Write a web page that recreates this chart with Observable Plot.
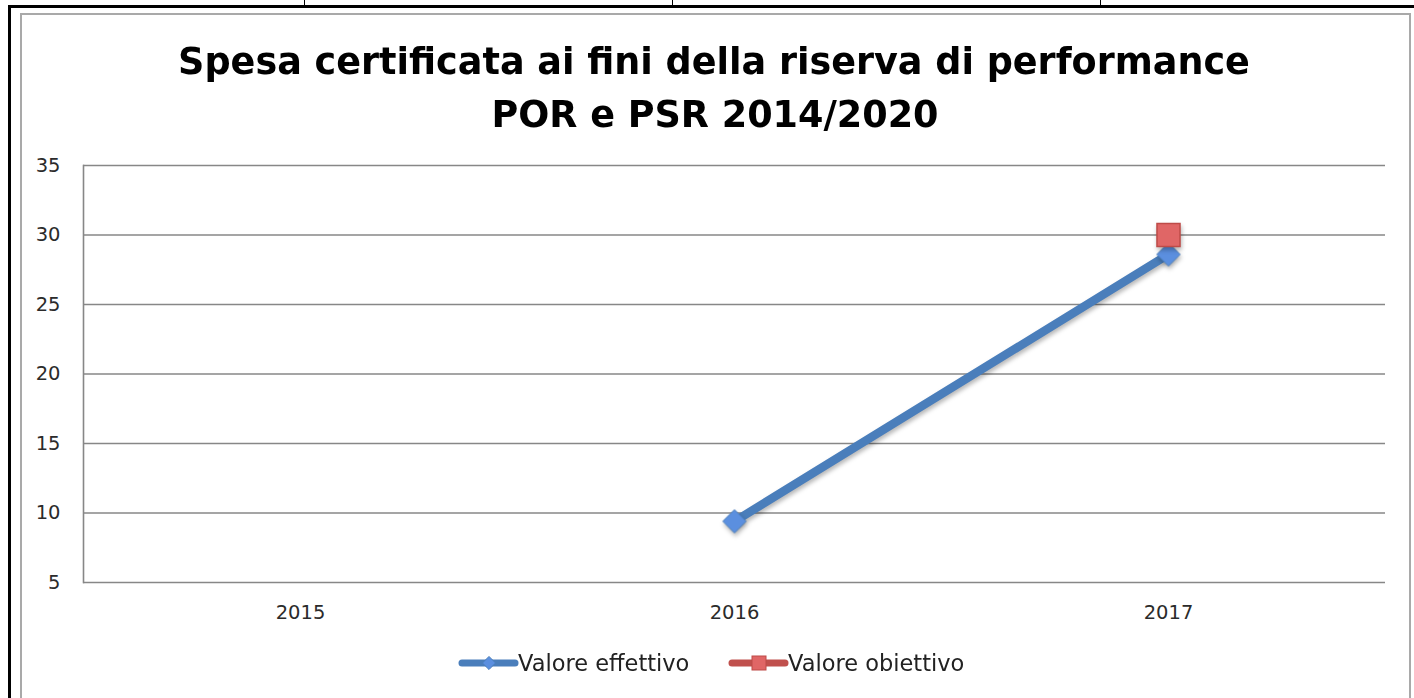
<!DOCTYPE html>
<html><head><meta charset="utf-8">
<script src="https://cdn.jsdelivr.net/npm/d3@7"></script>
<script src="https://cdn.jsdelivr.net/npm/@observablehq/plot@0.6"></script>
<style>
html,body{margin:0;padding:0;background:#fff;}
#page{position:relative;width:1414px;height:698px;overflow:hidden;background:#fff;font-family:"DejaVu Sans",sans-serif;}
.blk{position:absolute;background:#000;}
#box{position:absolute;left:20px;top:13px;width:1391px;height:720px;border:2px solid #a9a9a9;box-sizing:border-box;background:#fff;}
#chart{position:absolute;left:0;top:0;}
#overlay{position:absolute;left:0;top:0;}
g[aria-label="line"], g[aria-label="dot"]{filter:drop-shadow(1px 3px 2px rgba(0,0,0,0.28));}
</style>
</head><body>
<div id="page">
  <div class="blk" style="left:8px;top:5px;width:1406px;height:3px;"></div>
  <div class="blk" style="left:8px;top:5px;width:3px;height:700px;"></div>
  <div class="blk" style="left:304px;top:0;width:1px;height:5px;"></div>
  <div class="blk" style="left:672px;top:0;width:1px;height:5px;"></div>
  <div class="blk" style="left:1100px;top:0;width:1px;height:5px;"></div>
  <div id="box"></div>
  <div id="chart"></div>
  <svg id="overlay" width="1414" height="698"></svg>
</div>
<script>
const years = ["2015", "2016", "2017"];
const effettivo = [null, 9.4, 28.6];
const obiettivo = [null, null, 30];
const yTicks = [5, 10, 15, 20, 25, 30, 35];
const seriesNames = ["Valore effettivo", "Valore obiettivo"];
const titleLines = ["Spesa certificata ai fini della riserva di performance", "POR e PSR 2014/2020"];

const effData = years.map((year, i) => ({year, value: effettivo[i]})).filter(d => d.value != null);
const objData = years.map((year, i) => ({year, value: obiettivo[i]})).filter(d => d.value != null);

const blue = "#4a7ebb", blueFill = "#5b8fdf", red = "#be4b48", redFill = "#e06666";

const chart = Plot.plot({
  width: 1414, height: 698,
  marginLeft: 83, marginRight: 29, marginTop: 165, marginBottom: 116,
  style: {background: "transparent", fontFamily: "DejaVu Sans, sans-serif", fontSize: "19.5px", color: "#2b2b2b"},
  x: {type: "point", domain: years, padding: 0.5, label: null, tickSize: 0, tickPadding: 23},
  y: {domain: [5, 35], ticks: yTicks, label: null, tickSize: 0, tickPadding: 23},
  marks: [
    Plot.ruleY(yTicks, {stroke: "#878787", strokeWidth: 1.6}),
    Plot.frame({anchor: "left", stroke: "#878787", strokeWidth: 1.6}),
    Plot.line(effData, {x: "year", y: "value", stroke: blue, strokeWidth: 8.5}),
    Plot.dot(effData, {x: "year", y: "value", symbol: "diamond2", r: 10.5, fill: blueFill, stroke: blue, strokeWidth: 1}),
    Plot.dot(objData, {x: "year", y: "value", symbol: "square", r: 13, fill: redFill, stroke: red, strokeWidth: 1.5})
  ]
});
document.getElementById("chart").appendChild(chart);

// Title and legend as real text
const ov = d3.select("#overlay");
const ctx = document.createElement("canvas").getContext("2d");
ctx.font = "bold 40px 'DejaVu Sans'";
const w1 = ctx.measureText(titleLines[0]).width;
const tfs = 40 * 1072 / w1;
ov.append("text").attr("x", 714).attr("y", 74).attr("text-anchor", "middle")
  .attr("font-family", "DejaVu Sans").attr("font-weight", "bold").attr("font-size", tfs)
  .attr("fill", "#000").text(titleLines[0]);
ov.append("text").attr("x", 715).attr("y", 127).attr("text-anchor", "middle")
  .attr("font-family", "DejaVu Sans").attr("font-weight", "bold").attr("font-size", tfs)
  .attr("fill", "#000").text(titleLines[1]);

// legend
const lg = [
  {name: seriesNames[0], x0: 462, stroke: blue, fill: blueFill, sym: "diamond"},
  {name: seriesNames[1], x0: 732, stroke: "#c0504d", fill: redFill, sym: "square"}
];
lg.forEach(d => {
  const g = ov.append("g");
  g.append("line").attr("x1", d.x0).attr("x2", d.x0 + 53).attr("y1", 663).attr("y2", 663)
    .attr("stroke", d.stroke).attr("stroke-width", 7).attr("stroke-linecap", "round");
  const cx = d.x0 + 27;
  if (d.sym === "diamond") {
    g.append("path").attr("d", d3.symbol(d3.symbolDiamond2, 110)()).attr("transform", `translate(${cx},663)`)
      .attr("fill", d.fill).attr("stroke", d.stroke);
  } else {
    g.append("rect").attr("x", cx - 7).attr("y", 656).attr("width", 14).attr("height", 14)
      .attr("fill", d.fill).attr("stroke", red);
  }
  g.append("text").attr("x", d.x0 + 56).attr("y", 671).attr("font-family", "DejaVu Sans")
    .attr("font-size", 22.5).attr("fill", "#222").text(d.name);
});
</script>
</body></html>
